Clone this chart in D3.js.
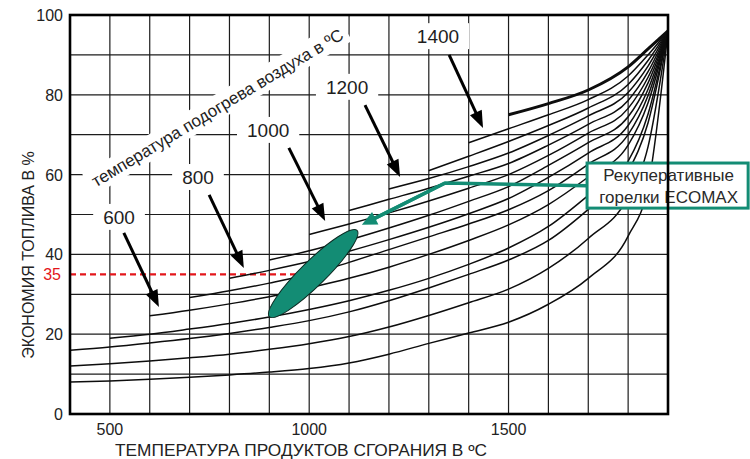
<!DOCTYPE html>
<html>
<head>
<meta charset="utf-8">
<script src="https://cdn.jsdelivr.net/npm/d3@7"></script>
<style>
  body { margin: 0; background: #fff; }
  svg { display: block; font-family: "Liberation Sans", Arial, sans-serif; }
</style>
</head>
<body>
<svg id="chart" width="750" height="459"></svg>
<script>
// flue gas temperature grid (°C) the curves are read at
const tempGrid = [400, 500, 600, 700, 800, 900, 1000, 1100, 1200, 1300, 1400, 1500, 1600, 1700, 1800, 1850, 1900];
// first flue temperature of every curve
const curveStart = [400, 400, 400, 500, 600, 700, 800, 900, 1000, 1100, 1200, 1300, 1400, 1500];
// fuel saving in %
const curveSavings = [
  [8.0, 8.3, 8.7, 9.2, 9.8, 10.5, 11.4, 12.8, 15.0, 17.7, 20.3, 23.0, 27.5, 34.0, 44.6, 57.0, 96],
  [12.0, 12.6, 13.3, 14.1, 15.0, 16.2, 17.6, 19.4, 21.8, 24.7, 27.9, 31.3, 36.5, 44.0, 54.5, 67.0, 96],
  [16.0, 16.8, 17.8, 18.9, 20.2, 21.7, 23.4, 25.6, 28.4, 31.6, 35.0, 38.6, 43.5, 51.3, 60.8, 73.0, 96],
  [19.0, 20.0, 21.3, 22.7, 24.3, 26.2, 28.4, 31.0, 34.0, 37.5, 41.6, 47.0, 54.8, 63.4, 75.2, 96],
  [24.6, 26.0, 27.6, 29.4, 31.6, 34.0, 36.8, 40.0, 43.5, 47.4, 52.5, 59.4, 67.4, 78.0, 96],
  [29.2, 30.9, 32.8, 35.0, 38.0, 41.2, 44.4, 47.6, 51.2, 56.0, 62.6, 70.0, 79.8, 96],
  [34.0, 36.0, 38.2, 40.8, 43.7, 46.8, 50.2, 54.0, 59.3, 65.4, 72.3, 81.4, 96],
  [38.6, 40.9, 43.6, 46.6, 49.8, 53.3, 57.0, 62.3, 68.0, 74.5, 83.0, 96],
  [45.0, 47.6, 50.4, 53.4, 56.6, 60.0, 64.8, 70.4, 76.6, 84.4, 96],
  [51.0, 53.8, 56.6, 59.6, 62.8, 67.4, 72.6, 78.6, 85.8, 96],
  [56.4, 59.0, 62.0, 65.4, 69.8, 74.7, 80.6, 87.2, 96],
  [61.0, 64.6, 68.3, 72.3, 76.7, 82.6, 88.6, 96],
  [68.0, 71.5, 75.0, 78.8, 84.7, 90.0, 96],
  [75.0, 77.8, 81.2, 87.0, 91.5, 96]
];
const yTickValues = [0, 20, 40, 60, 80, 100];
const xTickValues = [500, 1000, 1500];
const preheatLabels = ["600", "800", "1000", "1200", "1400"];
const markedSaving = 35;
const markedTemp = 1000;
const ecomaxFrom = [900, 24.4];
const ecomaxTo = [1120, 46];

const xTitle = "ТЕМПЕРАТУРА ПРОДУКТОВ СГОРАНИЯ  В ºC";
const yTitle = "ЭКОНОМИЯ ТОПЛИВА В %";
const preheatTitle = "температура подогрева воздуха в ºC";
const calloutLines = ["Рекуперативные", "горелки ECOMAX"];

// annotation placement, in chart units
const labelAt = [[523, 49.4], [721, 59.4], [897, 71.2], [1095, 82.0], [1323, 94.7]];
const arrowFrom = [[535, 45.4], [749, 54.9], [949, 66.7], [1140, 77.4], [1351, 90.0]];
const arrowTo = [[623, 26.8], [836, 36.6], [1040, 48.4], [1228, 59.4], [1436, 71.7]];
const calloutPath = [[1697, 57.2], [1341, 57.9], [1132, 47.4]];

const teal = "#138c74";
const font = '"Liberation Sans", Arial, sans-serif';

const svg = d3.select("#chart");
const x = d3.scaleLinear().domain([400, 1900]).range([70, 668]);
const y = d3.scaleLinear().domain([0, 100]).range([414, 15]);

const measure = document.createElement("canvas").getContext("2d");
function textWidth(str, size) {
  measure.font = `${size}px ${font}`;
  const w = measure.measureText(str).width;
  return w > 0 ? w : str.length * size * 0.55;
}

// grid
const grid = svg.append("g");
grid.selectAll(".vg")
  .data(x.ticks(15).filter(d => d > 400 && d < 1900))
  .enter().append("line")
  .attr("x1", d => x(d)).attr("x2", d => x(d))
  .attr("y1", y(0)).attr("y2", y(100))
  .attr("stroke", "#1c1c1c").attr("stroke-width", 1.2);
grid.selectAll(".hg")
  .data(y.ticks(10).filter(d => d > 0 && d < 100))
  .enter().append("line")
  .attr("x1", x(400)).attr("x2", x(1900))
  .attr("y1", d => y(d)).attr("y2", d => y(d))
  .attr("stroke", "#1c1c1c").attr("stroke-width", 1.2);

// labels sitting on the grid get a white box behind them
function boxedText(g, str, size, padX, padY) {
  const w = textWidth(str, size);
  g.append("rect")
    .attr("x", -w / 2 - padX).attr("y", -size * 0.42 - padY)
    .attr("width", w + 2 * padX).attr("height", size * 0.84 + 2 * padY)
    .attr("fill", "#fff");
  g.append("text").text(str)
    .attr("text-anchor", "middle")
    .attr("y", size * 0.36)
    .attr("font-size", size).attr("fill", "#1e1e1e");
}

const cap = svg.append("g")
  .attr("transform", `translate(${x(1000) - 92},${y(76.8)}) rotate(-31)`);
boxedText(cap, preheatTitle, 17, 5, 5);

preheatLabels.forEach((lab, i) => {
  const g = svg.append("g")
    .attr("transform", `translate(${x(labelAt[i][0])},${y(labelAt[i][1])})`);
  boxedText(g, lab, 19, 10, 5);
});

// red 35% marker
svg.append("line")
  .attr("x1", x(400)).attr("x2", x(markedTemp))
  .attr("y1", y(markedSaving)).attr("y2", y(markedSaving))
  .attr("stroke", "#e3161b").attr("stroke-width", 2.2)
  .attr("stroke-dasharray", "6,4");

// curves
const line = d3.line()
  .x(d => x(d[0])).y(d => y(d[1]))
  .curve(d3.curveMonotoneX);
const curves = curveSavings.map((vals, i) => {
  const temps = tempGrid.filter(t => t >= curveStart[i]);
  return vals.map((v, j) => [temps[j], v]);
});
svg.append("g").selectAll("path")
  .data(curves).enter().append("path")
  .attr("d", line)
  .attr("fill", "none")
  .attr("stroke", "#0d0d0d")
  .attr("stroke-width", (d, i) => i === curves.length - 1 ? 3 : 1.5);

// ECOMAX burners area
const ex1 = x(ecomaxFrom[0]), ey1 = y(ecomaxFrom[1]);
const ex2 = x(ecomaxTo[0]), ey2 = y(ecomaxTo[1]);
const elen = Math.hypot(ex2 - ex1, ey2 - ey1);
svg.append("ellipse")
  .attr("cx", (ex1 + ex2) / 2).attr("cy", (ey1 + ey2) / 2)
  .attr("rx", elen / 2).attr("ry", 12.5)
  .attr("transform", `rotate(${Math.atan2(ey2 - ey1, ex2 - ex1) * 180 / Math.PI},${(ex1 + ex2) / 2},${(ey1 + ey2) / 2})`)
  .attr("fill", teal).attr("stroke", "#0b2a22").attr("stroke-width", 1);

// arrows
function arrow(p0, p1, color, w, hl, hw) {
  const a = Math.atan2(p1[1] - p0[1], p1[0] - p0[0]);
  const bx = p1[0] - hl * Math.cos(a), by = p1[1] - hl * Math.sin(a);
  svg.append("line")
    .attr("x1", p0[0]).attr("y1", p0[1]).attr("x2", bx + Math.cos(a) * 2).attr("y2", by + Math.sin(a) * 2)
    .attr("stroke", color).attr("stroke-width", w);
  const nx = -Math.sin(a) * hw, ny = Math.cos(a) * hw;
  svg.append("path")
    .attr("d", `M${p1[0]},${p1[1]}L${bx + nx},${by + ny}L${bx - nx},${by - ny}Z`)
    .attr("fill", color);
}
arrowFrom.forEach((p, i) => {
  arrow([x(p[0]), y(p[1])], [x(arrowTo[i][0]), y(arrowTo[i][1])], "#000", 3, 17, 6.5);
});

// callout
const cp = calloutPath.map(p => [x(p[0]), y(p[1])]);
svg.append("polyline")
  .attr("points", cp.slice(0, 2).map(p => p.join(",")).join(" ") + " " +
    [cp[1][0] + (cp[2][0] - cp[1][0]) * 0.85, cp[1][1] + (cp[2][1] - cp[1][1]) * 0.85].join(","))
  .attr("fill", "none").attr("stroke", teal).attr("stroke-width", 3.5)
  .attr("stroke-linejoin", "round");
arrow(cp[1], cp[2], teal, 3.5, 15, 7);

const box = svg.append("g");
box.append("rect")
  .attr("x", x(1697)).attr("y", y(62.9))
  .attr("width", x(2101) - x(1697)).attr("height", y(51.6) - y(62.9))
  .attr("fill", "#fff").attr("stroke", teal).attr("stroke-width", 3);
box.selectAll("text").data(calloutLines).enter().append("text")
  .attr("x", (x(1697) + x(2101)) / 2 + 1)
  .attr("y", (d, i) => y(62.9) + 18 + i * 22)
  .attr("text-anchor", "middle")
  .attr("font-size", 17).attr("fill", "#2a2a2a")
  .text(d => d);

// frame
svg.append("rect")
  .attr("x", x(400)).attr("y", y(100))
  .attr("width", x(1900) - x(400)).attr("height", y(0) - y(100))
  .attr("fill", "none").attr("stroke", "#000").attr("stroke-width", 2.6);

// tick labels
svg.append("g").selectAll("text")
  .data(yTickValues).enter().append("text")
  .attr("x", 63).attr("y", d => y(d) + 6)
  .attr("text-anchor", "end").attr("font-size", 16).attr("fill", "#222")
  .text(d => d);
svg.append("text")
  .attr("x", 61).attr("y", y(markedSaving) + 6)
  .attr("text-anchor", "end").attr("font-size", 16).attr("fill", "#e3161b")
  .text(markedSaving);
svg.append("g").selectAll("text")
  .data(xTickValues).enter().append("text")
  .attr("x", d => x(d)).attr("y", 435)
  .attr("text-anchor", "middle").attr("font-size", 16).attr("fill", "#222")
  .text(d => d);

// axis titles
svg.append("text")
  .attr("x", 115).attr("y", 456)
  .attr("font-size", 16.5).attr("fill", "#222")
  .attr("textLength", 372).attr("lengthAdjust", "spacingAndGlyphs")
  .text(xTitle);
svg.append("text")
  .attr("transform", "translate(34,255) rotate(-90)")
  .attr("text-anchor", "middle").attr("font-size", 16).attr("fill", "#222")
  .text(yTitle);
</script>
</body>
</html>
